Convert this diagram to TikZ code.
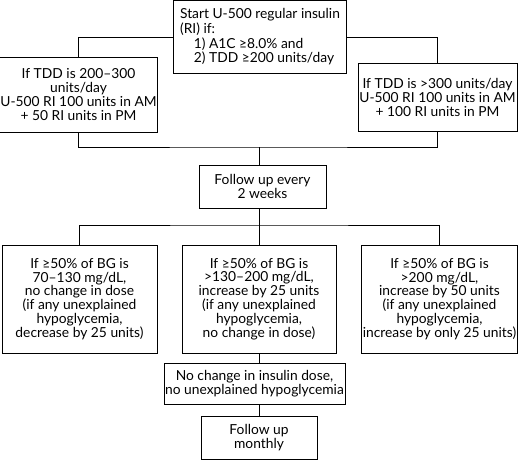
\documentclass[tikz,border=0pt]{standalone}
\usepackage{fontspec}
\setmainfont{Lato}
\usetikzlibrary{positioning}

\tikzstyle{stepbox} = [rectangle, draw, line width=0.9pt, align=center, inner sep=1pt,
font=\fontsize{13.8}{13.9}\selectfont]
\tikzstyle{line} = [draw, line width=0.9pt]

\begin{document}
\begin{tikzpicture}[x=1pt,y=-1pt]

\useasboundingbox (0,0) rectangle (520,460);

% Start and starting dose
\node[stepbox, minimum width=173, minimum height=73, align=left,
  font=\fontsize{13.8}{14.6}\selectfont](start) at (260,37)
  {Start U-500 regular insulin\\(RI) if:\\\hspace*{1em}1) A1C ≥8.0\% and\\\hspace*{1em}2) TDD ≥200 units/day};
\node[stepbox, minimum width=153, minimum height=75](low) at (78.5,94.5)
  {If TDD is 200–300\\units/day\\U-500 RI 100 units in AM\\+ 50 RI units in PM};
\node[stepbox, minimum width=159, minimum height=68](high) at (437.5,97.5)
  {If TDD is >300 units/day\\U-500 RI 100 units in AM\\+ 100 RI units in PM};

% Follow up
\node[stepbox, minimum width=127, minimum height=43](follow) at (262.5,186.5)
  {Follow up every\\2 weeks};

% Titration by BG
\node[stepbox, minimum width=155, minimum height=108](bglow) at (79.5,299)
  {If ≥50\% of BG is\\70–130 mg/dL,\\no change in dose\\(if any unexplained\\hypoglycemia,\\decrease by 25 units)};
\node[stepbox, minimum width=154, minimum height=108](bgmid) at (259,299)
  {If ≥50\% of BG is\\>130–200 mg/dL,\\increase by 25 units\\(if any unexplained\\hypoglycemia,\\no change in dose)};
\node[stepbox, minimum width=155, minimum height=108](bghigh) at (439.5,299)
  {If ≥50\% of BG is\\>200 mg/dL,\\increase by 50 units\\(if any unexplained\\hypoglycemia,\\increase by only 25 units)};

% Stable dose
\node[stepbox, minimum width=181, minimum height=41](stable) at (254.5,383.5)
  {No change in insulin dose,\\no unexplained hypoglycemia};
\node[stepbox, minimum width=116, minimum height=43](monthly) at (259,437.5)
  {Follow up\\monthly};

\coordinate (join) at (259,147);
\coordinate (split) at (259,225);

% Connectors
\path[line] (start.west) -| (low.north);
\path[line] (start.east) -| (high.north);
\path[line] (low.south) |- (join) -| (high.south);
\path[line] (join) -- (join |- follow.north);
\path[line] (split |- follow.south) -- (split);
\path[line] (bglow.north) |- (split) -| (bghigh.north);
\path[line] (split) -- (bgmid.north);
\path[line] (bgmid.south) -- (bgmid.south |- stable.north);
\path[line] (monthly.north |- stable.south) -- (monthly.north);

\end{tikzpicture}
\end{document}
